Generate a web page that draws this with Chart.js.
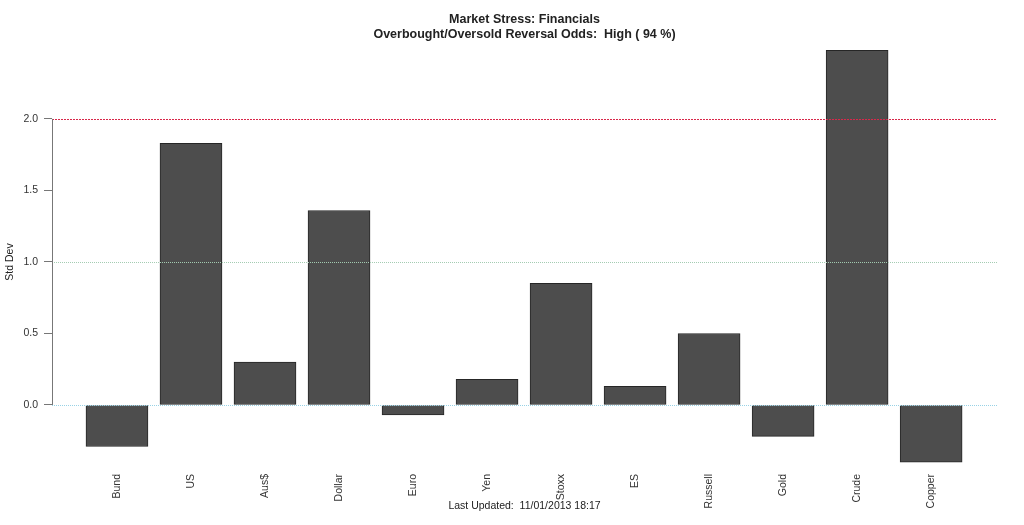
<!DOCTYPE html>
<html>
<head>
<meta charset="utf-8">
<title>Market Stress: Financials</title>
<script src="https://cdn.jsdelivr.net/npm/chart.js@4/dist/chart.umd.min.js"></script>
<style>
  html, body { margin: 0; padding: 0; background: #fff; }
  canvas { display: block; }
</style>
</head>
<body>
<canvas id="stressChart" width="1024" height="525"></canvas>
<script>
const categories = ["Bund","US","Aus$","Dollar","Euro","Yen","Stoxx","ES","Russell","Gold","Crude","Copper"];
const stdDev = [-0.29, 1.83, 0.30, 1.36, -0.07, 0.18, 0.85, 0.13, 0.50, -0.22, 2.48, -0.40];
const yTicks = [0, 0.5, 1.0, 1.5, 2.0];
const refLines = [2.0, 1.0, 0.0];
const titleLines = ["Market Stress: Financials", "Overbought/Oversold Reversal Odds:  High ( 94 %)"];
const footer = "Last Updated:  11/01/2013 18:17";

const FONT = "'Liberation Sans', Arial, sans-serif";
const refColors = ["#d8284a", "#a4ccb2", "#98d2e6"];
const refDash = [[2, 1], [1, 1], [1, 1]];

// R-style extras: title, axis line, ablines, footer
const rDecor = {
  id: "rDecor",
  afterDatasetsDraw(chart) {
    const { ctx, chartArea, scales } = chart;
    const y = scales.y;
    ctx.save();
    // dotted ablines drawn as pixel dots so colour stays crisp
    refLines.forEach((v, i) => {
      const py = Math.round(y.getPixelForValue(v));
      const [on, off] = refDash[i];
      ctx.fillStyle = refColors[i];
      for (let x = Math.round(chartArea.left); x < chartArea.right; x += on + off) {
        ctx.fillRect(x, py, on, 1);
      }
    });
    ctx.restore();
  },
  afterDraw(chart) {
    const { ctx, chartArea, scales } = chart;
    const y = scales.y;
    ctx.save();
    // y axis line only over tick range
    ctx.strokeStyle = "#777";
    ctx.lineWidth = 1;
    const ax = chartArea.left + 0.5;
    ctx.beginPath();
    ctx.moveTo(ax, y.getPixelForValue(yTicks[0]));
    ctx.lineTo(ax, y.getPixelForValue(yTicks[yTicks.length - 1]));
    ctx.stroke();

    const cx = (chartArea.left + chartArea.right) / 2;
    ctx.fillStyle = "#222";
    ctx.textAlign = "center";
    ctx.textBaseline = "middle";
    ctx.font = "bold 12.5px " + FONT;
    ctx.fillText(titleLines[0], cx, 19.5);
    ctx.fillText(titleLines[1], cx, 35);

    ctx.font = "10.5px " + FONT;
    ctx.fillText(footer, cx, 506);

    ctx.translate(10, (y.getPixelForValue(0) + y.getPixelForValue(2)) / 2);
    ctx.rotate(-Math.PI / 2);
    ctx.fillText("Std Dev", 0, 0);
    ctx.restore();
  }
};

new Chart(document.getElementById("stressChart"), {
  type: "bar",
  data: {
    datasets: [{
      data: categories.map((c, i) => ({ x: i, y: stdDev[i] })),
      backgroundColor: "#4d4d4d",
      borderColor: "#262626",
      borderWidth: 1,
      borderSkipped: false,
      barThickness: 62
    }]
  },
  options: {
    responsive: false,
    animation: false,
    layout: { padding: { left: 0, right: 27, top: 34, bottom: 0 } },
    plugins: {
      legend: { display: false },
      title: { display: false },
      tooltip: { enabled: false }
    },
    scales: {
      x: {
        type: "linear",
        offset: false,
        min: -0.878,
        max: 11.89,
        afterBuildTicks: (s) => { s.ticks = categories.map((c, i) => ({ value: i })); },
        afterFit: (s) => { s.height = 59; },
        grid: { display: false, drawTicks: false, offset: false },
        border: { display: false },
        ticks: {
          autoSkip: false,
          minRotation: 90,
          maxRotation: 90,
          padding: 8,
          color: "#333",
          font: { family: FONT, size: 10.5 },
          callback: (v) => categories[v]
        }
      },
      y: {
        min: -0.4266,
        max: 2.594,
        afterBuildTicks: (s) => { s.ticks = yTicks.map(v => ({ value: v })); },
        afterFit: (s) => { s.width = 52; },
        grid: { drawOnChartArea: false, drawTicks: true, tickLength: 8, color: "#777" },
        border: { display: false },
        ticks: {
          padding: 6,
          color: "#333",
          font: { family: FONT, size: 10.5 },
          callback: (v) => v.toFixed(1)
        }
      }
    }
  },
  plugins: [rDecor]
});
</script>
</body>
</html>
